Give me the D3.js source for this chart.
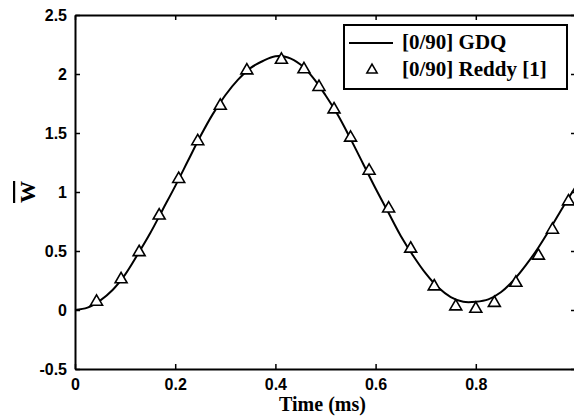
<!DOCTYPE html>
<html>
<head>
<meta charset="utf-8">
<script src="https://cdn.jsdelivr.net/npm/d3@7"></script>
<style>
  body { margin: 0; background: #fff; }
  svg { display: block; }
</style>
</head>
<body>
<div id="chart"></div>
<script>
// GDQ solution (line)
const gdqTime = [0, 0.025, 0.05, 0.075, 0.1, 0.125, 0.15, 0.175, 0.2, 0.225, 0.25, 0.275, 0.3, 0.325, 0.35, 0.375, 0.4, 0.425, 0.45, 0.475, 0.5, 0.525, 0.55, 0.575, 0.6, 0.625, 0.65, 0.675, 0.7, 0.725, 0.75, 0.775, 0.8, 0.825, 0.85, 0.875, 0.9, 0.925, 0.95, 0.975, 1.0];
const gdqW = [0, 0.02, 0.08, 0.17, 0.30, 0.47, 0.65, 0.85, 1.05, 1.26, 1.47, 1.66, 1.82, 1.95, 2.05, 2.11, 2.15, 2.14, 2.08, 1.97, 1.82, 1.65, 1.45, 1.24, 1.03, 0.83, 0.63, 0.46, 0.31, 0.19, 0.11, 0.07, 0.07, 0.09, 0.15, 0.25, 0.38, 0.53, 0.70, 0.88, 1.05];

// Reddy [1] reference points (triangles)
const reddyTime = [0.043, 0.092, 0.128, 0.168, 0.207, 0.245, 0.29, 0.343, 0.412, 0.457, 0.487, 0.517, 0.55, 0.587, 0.626, 0.67, 0.717, 0.76, 0.80, 0.837, 0.88, 0.925, 0.953, 0.985];
const reddyW = [0.07, 0.26, 0.49, 0.80, 1.11, 1.43, 1.73, 2.03, 2.12, 2.04, 1.89, 1.70, 1.46, 1.18, 0.86, 0.52, 0.20, 0.03, 0.01, 0.06, 0.23, 0.46, 0.68, 0.92];

const xTicks = [0, 0.2, 0.4, 0.6, 0.8, 1.0];
const xTickLabels = ["0", "0.2", "0.4", "0.6", "0.8", ""];
const yTicks = [-0.5, 0, 0.5, 1, 1.5, 2, 2.5];
const yTickLabels = ["-0.5", "0", "0.5", "1", "1.5", "2", "2.5"];

const seriesNames = ["[0/90] GDQ", "[0/90] Reddy [1]"];

const margin = { top: 15, right: -2, bottom: 51, left: 75 };
const totalW = 574, totalH = 420;
const width = totalW - margin.left - margin.right;
const height = totalH - margin.top - margin.bottom;

const svg = d3.select("#chart")
    .append("svg")
    .attr("width", totalW)
    .attr("height", totalH)
    .append("g")
    .attr("transform", `translate(${margin.left},${margin.top})`);

const x = d3.scaleLinear().domain([0, 1]).range([0, width]);
const y = d3.scaleLinear().domain([-0.5, 2.5]).range([height, 0]);

const tickFont = "'Liberation Sans', Arial, sans-serif";
const serif = "'Liberation Serif', 'Times New Roman', serif";

// Axes on all four sides, ticks pointing inward
function styleAxis(g) {
    g.select(".domain").attr("stroke", "#000").attr("stroke-width", 2);
    g.selectAll(".tick line").attr("stroke", "#000").attr("stroke-width", 1.5);
    g.selectAll(".tick text")
        .attr("fill", "#000")
        .attr("font-family", tickFont)
        .attr("font-weight", "bold")
        .attr("font-size", "16px");
}

svg.append("g")
    .attr("transform", `translate(0,${height})`)
    .call(d3.axisBottom(x).tickValues(xTicks)
        .tickFormat((d, i) => xTickLabels[i])
        .tickSizeInner(-5).tickSizeOuter(0).tickPadding(10))
    .call(styleAxis);

svg.append("g")
    .call(d3.axisTop(x).tickValues(xTicks)
        .tickFormat("")
        .tickSizeInner(-5).tickSizeOuter(0))
    .call(styleAxis);

svg.append("g")
    .call(d3.axisLeft(y).tickValues(yTicks)
        .tickFormat((d, i) => yTickLabels[i])
        .tickSizeInner(-5).tickSizeOuter(0).tickPadding(8))
    .call(styleAxis);

svg.append("g")
    .attr("transform", `translate(${width},0)`)
    .call(d3.axisRight(y).tickValues(yTicks)
        .tickFormat("")
        .tickSizeInner(-5).tickSizeOuter(0))
    .call(styleAxis);

// GDQ line
const gdq = gdqTime.map((t, i) => ({ t: t, w: gdqW[i] }));
const line = d3.line()
    .x(d => x(d.t))
    .y(d => y(d.w))
    .curve(d3.curveCatmullRom);

svg.append("path")
    .datum(gdq)
    .attr("fill", "none")
    .attr("stroke", "#000")
    .attr("stroke-width", 2)
    .attr("d", line);

// Reddy triangles
const reddy = reddyTime.map((t, i) => ({ t: t, w: reddyW[i] }));
const tri = d3.symbol().type(d3.symbolTriangle).size(62);

svg.selectAll(".reddy")
    .data(reddy)
    .enter()
    .append("path")
    .attr("class", "reddy")
    .attr("transform", d => `translate(${x(d.t)},${y(d.w)})`)
    .attr("d", tri)
    .attr("fill", "#fff")
    .attr("stroke", "#000")
    .attr("stroke-width", 1.6);

// Axis labels
svg.append("text")
    .attr("x", width / 2 - 3)
    .attr("y", height + 42)
    .attr("text-anchor", "middle")
    .attr("font-family", serif)
    .attr("font-weight", "bold")
    .attr("font-size", "20px")
    .text("Time (ms)");

svg.append("text")
    .attr("transform", `translate(${-40},${y(1.0)}) rotate(-90)`)
    .attr("text-anchor", "middle")
    .attr("font-family", serif)
    .attr("font-weight", "bold")
    .attr("font-size", "22px")
    .style("text-decoration", "overline")
    .text("W");

// Legend
const legend = svg.append("g")
    .attr("transform", `translate(${344 - margin.left},${25 - margin.top})`);

legend.append("rect")
    .attr("width", 223)
    .attr("height", 64)
    .attr("fill", "#fff")
    .attr("stroke", "#000")
    .attr("stroke-width", 2);

legend.append("line")
    .attr("x1", 5).attr("x2", 49)
    .attr("y1", 18).attr("y2", 18)
    .attr("stroke", "#000")
    .attr("stroke-width", 2);

legend.append("path")
    .attr("transform", "translate(28,45)")
    .attr("d", d3.symbol().type(d3.symbolTriangle).size(45))
    .attr("fill", "#fff")
    .attr("stroke", "#000")
    .attr("stroke-width", 1.6);

legend.selectAll(".ltext")
    .data(seriesNames)
    .enter()
    .append("text")
    .attr("class", "ltext")
    .attr("x", 58)
    .attr("y", (d, i) => 24 + i * 27)
    .attr("font-family", serif)
    .attr("font-weight", "bold")
    .attr("font-size", "21px")
    .text(d => d);
</script>
</body>
</html>
